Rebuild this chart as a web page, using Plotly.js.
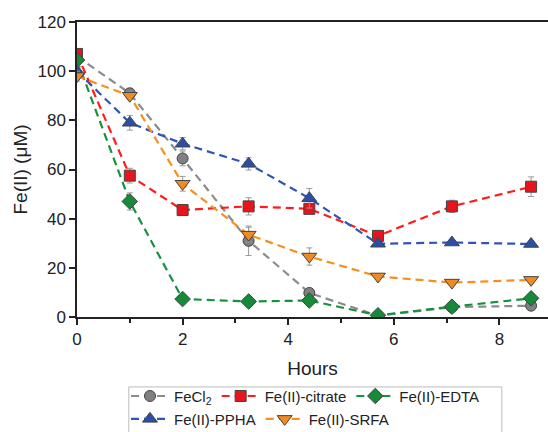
<!DOCTYPE html>
<html><head><meta charset="utf-8">
<script src="https://cdn.plot.ly/plotly-3.0.1.min.js"></script>
<style>body{margin:0;background:#fff}#c{width:548px;height:432px}</style>
</head><body><div id="c"></div>
<script>
const hours = [0, 1, 2, 3.25, 4.4, 5.7, 7.1, 8.6];
const feCl2 = [106, 91, 64.5, 31, 9.8, 0.5, 4, 4.6];
const feCl2Err = [1.5, 2, 3, 6, 1.5, 0.5, 1, 1];
const citrate = [107, 57.5, 43.5, 45, 44, 33, 45, 53];
const citrateErr = [1.5, 3, 2, 3.5, 1.5, 1.5, 2.5, 4];
const edta = [104.5, 47, 7.3, 6.3, 6.7, 0.7, 4.2, 7.6];
const edtaErr = [1, 3.5, 1, 0.8, 1, 0.5, 1, 1];
const ppha = [100, 79, 70.5, 62.3, 48.3, 29.8, 30.3, 29.7];
const pphaErr = [2, 3, 2.5, 2.5, 4, 1, 1, 1];
const srfa = [98, 90, 54.2, 33.5, 24.6, 16.5, 14, 15.1];
const srfaErr = [2, 1.5, 3, 3, 3.5, 1, 1, 1];
const names = ["FeCl<sub>2</sub>", "Fe(II)-citrate", "Fe(II)-EDTA", "Fe(II)-PPHA", "Fe(II)-SRFA"];

function tr(name, y, err, lineColor, fill, symbol, size, leg) {
  return {
    x: hours, y: y, name: name, type: 'scatter', mode: 'lines+markers', legend: leg,
    line: {color: lineColor, width: 2.2, dash: '8px,5px'},
    marker: {symbol: symbol, size: size, color: fill, line: {color: '#444', width: 1}},
    error_y: {type: 'data', array: err, visible: true, color: '#999', thickness: 1, width: 3}
  };
}
const data = [
  tr(names[0], feCl2, feCl2Err, '#8c8c8c', '#808080', 'circle', 11, 'legend'),
  tr(names[1], citrate, citrateErr, '#ff1c1c', '#e8141b', 'square', 11, 'legend'),
  tr(names[2], edta, edtaErr, '#17913d', '#168a38', 'diamond', 12, 'legend'),
  tr(names[3], ppha, pphaErr, '#2f55b5', '#2a4fa8', 'triangle-up', 13, 'legend2'),
  tr(names[4], srfa, srfaErr, '#f5901f', '#f08a22', 'triangle-down', 13, 'legend2')
];
const legBase = {
  orientation: 'h', xref: 'paper', x: 0.104, xanchor: 'left', yref: 'container', yanchor: 'top',
  borderwidth: 0, bgcolor: 'rgba(0,0,0,0)', font: {size: 15}, itemwidth: 38
};
const layout = {
  width: 548, height: 432,
  margin: {l: 77, r: 0, t: 22, b: 115},
  paper_bgcolor: '#fff', plot_bgcolor: '#fff',
  font: {family: 'Liberation Sans, Arial, sans-serif', color: '#222'},
  showlegend: true,
  xaxis: {
    range: [0, 8.92], tickvals: [0, 2, 4, 6, 8], ticks: 'outside', ticklen: 6, tickwidth: 1.5,
    tickcolor: '#222', showline: true, linecolor: '#222', linewidth: 1.5, mirror: true,
    showgrid: false, zeroline: false, tickfont: {size: 17},
    minor: {tickvals: [1, 3, 5, 7], ticks: 'outside', ticklen: 4, tickcolor: '#222', tickwidth: 1.5},
    title: {text: 'Hours', font: {size: 19}, standoff: 14}
  },
  yaxis: {
    range: [0, 120], tickvals: [0, 20, 40, 60, 80, 100, 120], ticks: 'outside', ticklen: 6, tickwidth: 1.5,
    tickcolor: '#222', showline: true, linecolor: '#222', linewidth: 1.5,
    showgrid: false, zeroline: false, tickfont: {size: 17},
    title: {text: 'Fe(II) (μM)', font: {size: 19}, standoff: 5}
  },
  legend: Object.assign({}, legBase, {y: 0.121}),
  legend2: Object.assign({}, legBase, {y: 0.068}),
  shapes: [{type: 'rect', xref: 'paper', yref: 'paper', x0: 0.110, x1: 0.902, y0: -0.237, y1: -0.45,
    line: {color: '#bbb', width: 1}, fillcolor: 'rgba(0,0,0,0)'}]
};
Plotly.newPlot('c', data, layout, {displayModeBar: false});
</script></body></html>
